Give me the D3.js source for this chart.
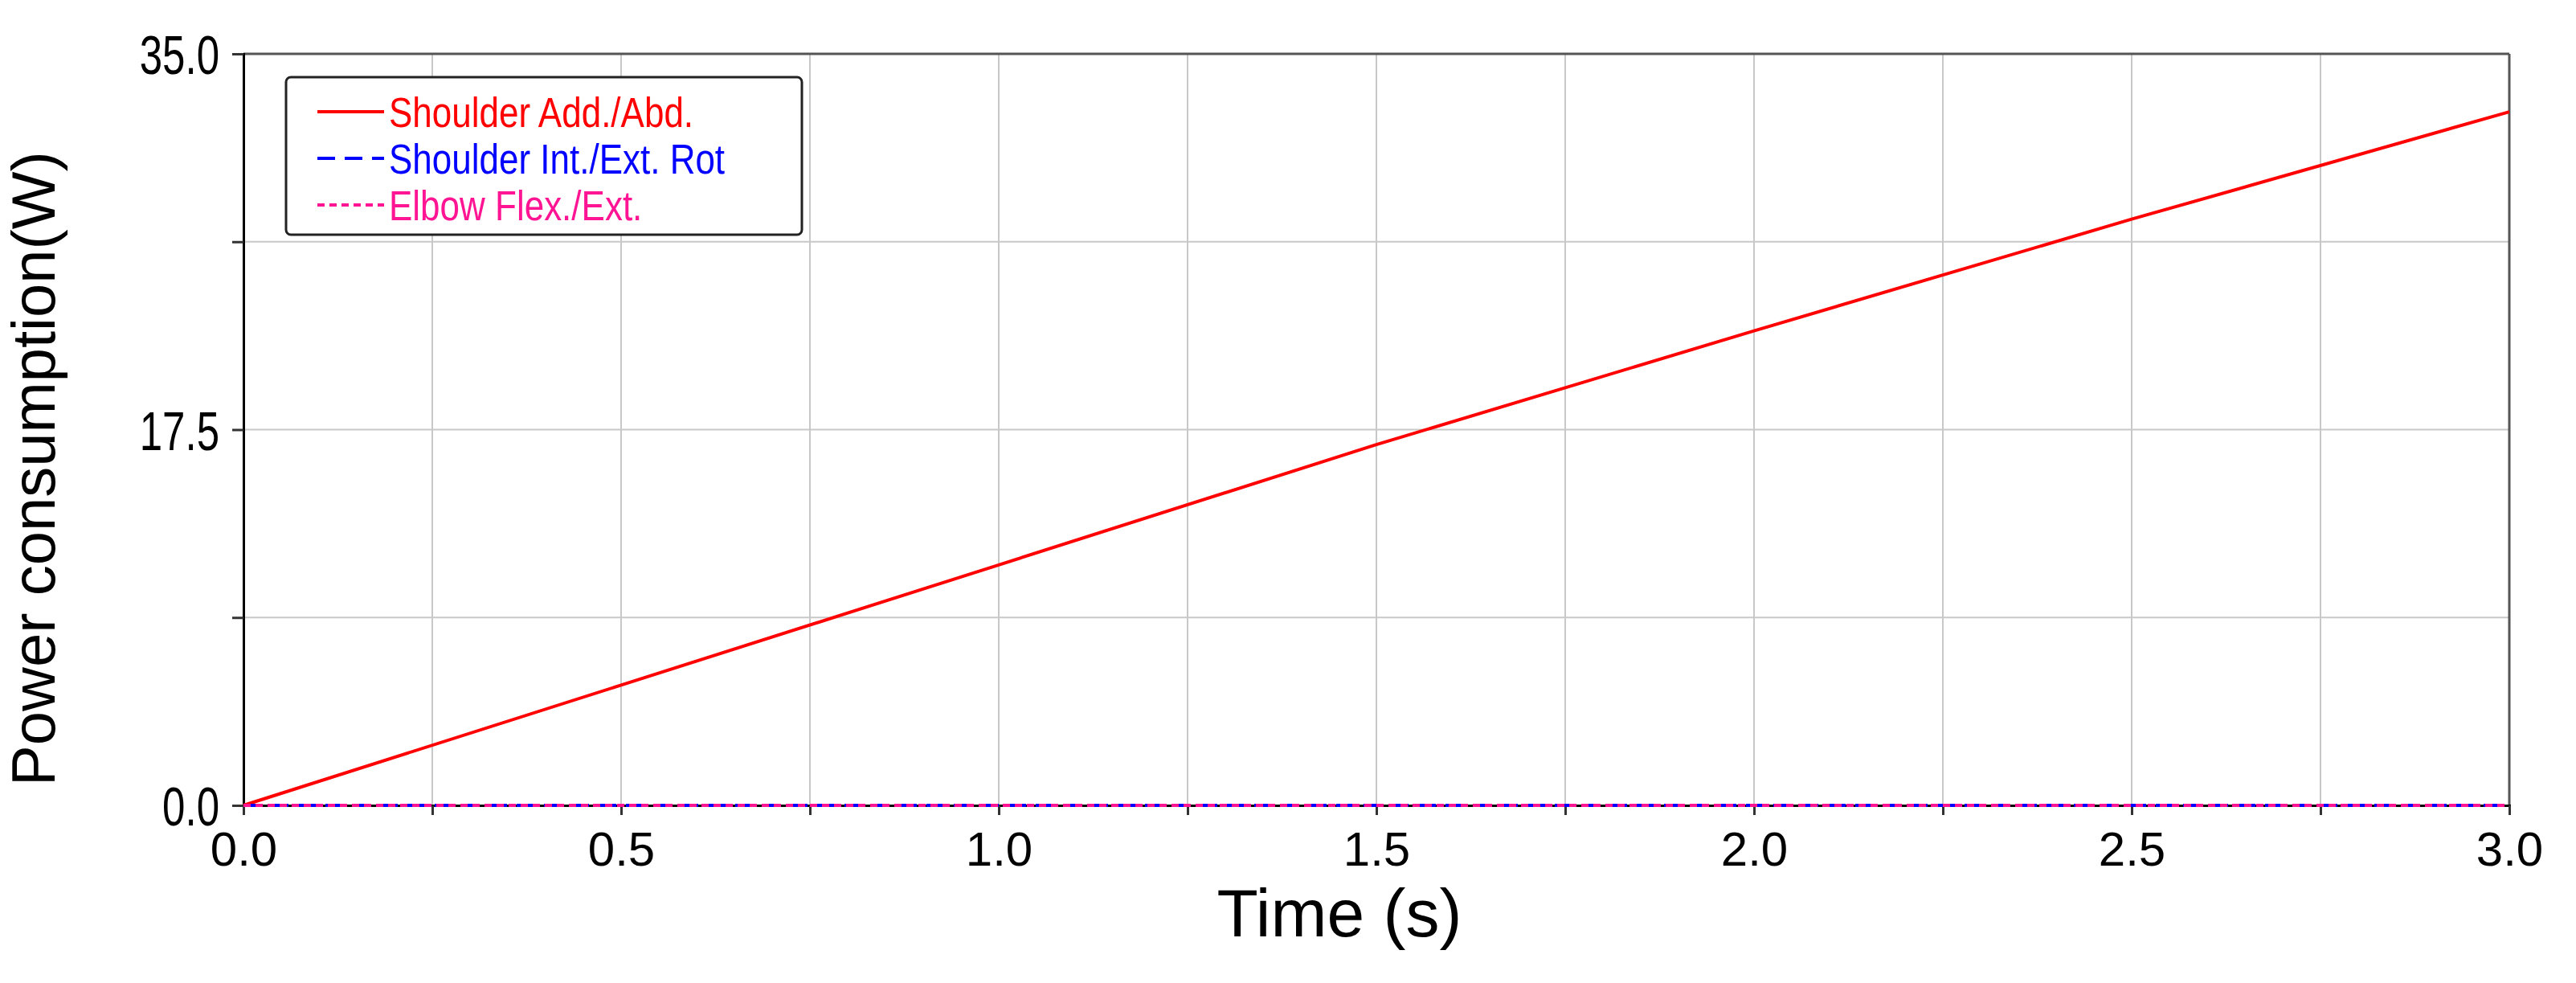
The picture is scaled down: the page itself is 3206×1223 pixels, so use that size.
<!DOCTYPE html>
<html><head><meta charset="utf-8">
<script src="https://cdn.jsdelivr.net/npm/d3@7"></script>
<style>body{margin:0;background:#fff}</style></head>
<body><svg id="c" width="3206" height="1223"></svg>
<script>
const time = [0, 0.5, 1.0, 1.5, 2.0, 2.5, 3.0];
const shoulderAbd = [0, 5.6, 11.2, 16.8, 22.1, 27.3, 32.3];
const shoulderRot = [0, 0, 0, 0, 0, 0, 0];
const elbowFlex = [0, 0, 0, 0, 0, 0, 0];
const xTicks = [0, 0.5, 1.0, 1.5, 2.0, 2.5, 3.0];
const yTicks = [0, 17.5, 35.0];
const seriesNames = ["Shoulder Add./Abd.", "Shoulder Int./Ext. Rot", "Elbow Flex./Ext."];
const colors = ["#ff0000", "#0000ff", "#ff1493"];
const dashes = [null, "22,12", "9,6"];

const svg = d3.select("#c");
const L=303,R=3123,T=67,B=1002;
const x=d3.scaleLinear().domain([0,3]).range([L,R]);
const y=d3.scaleLinear().domain([0,35]).range([B,T]);
const font="Liberation Sans, Arial, sans-serif";

const gx=d3.range(0,3.001,0.25), gy=d3.range(0,35.001,8.75);
svg.append("g").selectAll("line").data(gx).join("line")
 .attr("x1",d=>x(d)).attr("x2",d=>x(d)).attr("y1",T).attr("y2",B).attr("stroke","#c8c8c8").attr("stroke-width",2);
svg.append("g").selectAll("line").data(gy).join("line")
 .attr("y1",d=>y(d)).attr("y2",d=>y(d)).attr("x1",L).attr("x2",R).attr("stroke","#c8c8c8").attr("stroke-width",2);
svg.append("line").attr("x1",L).attr("x2",R).attr("y1",T).attr("y2",T).attr("stroke","#555").attr("stroke-width",3);
svg.append("line").attr("x1",R).attr("x2",R).attr("y1",T).attr("y2",B).attr("stroke","#555").attr("stroke-width",3);

const xa=svg.append("g").attr("transform",`translate(0,${B})`)
 .call(d3.axisBottom(x).tickValues(gx).tickSize(12).tickFormat(d=>xTicks.includes(d)?d3.format(".1f")(d):""));
const ya=svg.append("g").attr("transform",`translate(${L},0)`)
 .call(d3.axisLeft(y).tickValues(gy).tickSize(14).tickFormat(d=>yTicks.includes(d)?d3.format(".1f")(d):""));
[xa,ya].forEach(a=>{a.select(".domain").attr("stroke","#000").attr("stroke-width",3);
 a.selectAll(".tick line").attr("stroke","#333").attr("stroke-width",3);
 a.selectAll("text").attr("font-family",font).attr("font-size",60).attr("fill","#000");});
xa.selectAll("text").attr("dy","1.0em");
ya.selectAll(".tick text").attr("x",0).attr("y",0).attr("dy","0.36em")
 .attr("transform","translate(-30,0) scale(0.85,1.15)");

const data=[shoulderAbd,shoulderRot,elbowFlex];
const line=d3.line().x((d,i)=>x(time[i])).y(d=>y(d));
data.forEach((s,k)=>svg.append("path").datum(s).attr("d",line).attr("fill","none")
 .attr("stroke",colors[k]).attr("stroke-width",4).attr("stroke-dasharray",dashes[k]));

svg.append("text").attr("x",1667).attr("y",1165).attr("text-anchor","middle")
 .attr("font-family",font).attr("font-size",84).text("Time (s)");
svg.append("text").attr("transform",`translate(68,583) rotate(-90)`).attr("text-anchor","middle")
 .attr("font-family",font).attr("font-size",76).text("Power consumption(W)");

const lg=svg.append("g");
lg.append("rect").attr("x",356).attr("y",96).attr("width",642).attr("height",196).attr("rx",6)
 .attr("fill","#fff").attr("stroke","#222").attr("stroke-width",3);
seriesNames.forEach((n,k)=>{
 const yy=139+k*58;
 lg.append("line").attr("x1",395).attr("x2",478).attr("y1",yy).attr("y2",yy)
  .attr("stroke",colors[k]).attr("stroke-width",4).attr("stroke-dasharray",dashes[k]);
 lg.append("text").attr("x",0).attr("y",0).attr("dy","0.36em").attr("font-family",font).attr("font-size",50)
  .attr("fill",colors[k]).attr("transform",`translate(484,${yy}) scale(0.88,1.05)`).text(n);
});
</script></body></html>
